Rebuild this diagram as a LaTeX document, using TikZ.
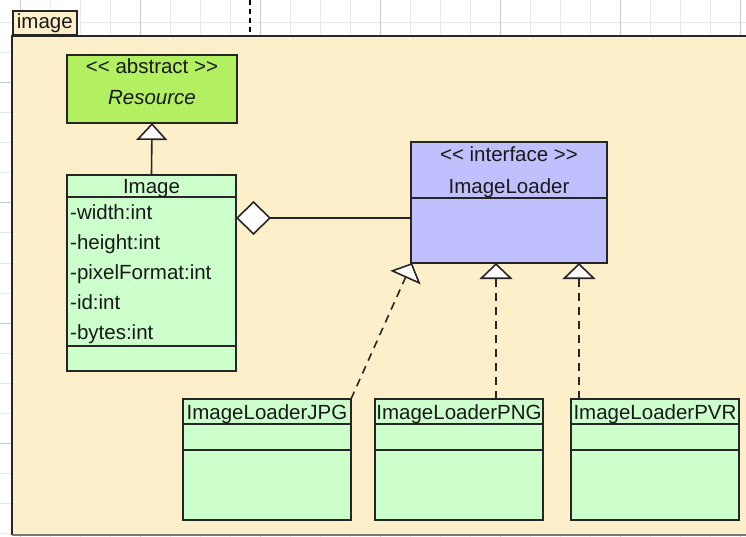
\documentclass[tikz,border=0pt]{standalone}
\usepackage{fontspec}
\setmainfont{Liberation Sans}
\usetikzlibrary{arrows.meta,calc}

\definecolor{pkgfill}{RGB}{253,239,202}
\definecolor{limefill}{RGB}{178,240,98}
\definecolor{mintfill}{RGB}{204,255,204}
\definecolor{lavfill}{RGB}{192,192,255}
\definecolor{edgec}{RGB}{38,38,38}
\definecolor{textc}{RGB}{25,25,25}
\definecolor{gridlight}{RGB}{232,232,232}
\definecolor{griddark}{RGB}{200,200,200}
\definecolor{pkgbottom}{RGB}{120,120,120}

\tikzset{
  umlfont/.style={font=\fontsize{20.5pt}{24pt}\selectfont},
  classbox/.style={draw=edgec, line width=1.7pt, anchor=north west,
    inner sep=0pt, outer sep=0pt},
  txt/.style={umlfont, inner sep=0pt, text=textc},
  compline/.style={draw=edgec, line width=1.7pt},
  conn/.style={draw=edgec, line width=1.6pt},
  inherit/.style={conn, -{Triangle[fill=white, length=17pt, width=31pt]}},
  realize/.style={conn, dash pattern=on 8pt off 6pt,
    -{Triangle[fill=white, length=16pt, width=33pt]}},
  agg/.style={conn, {Diamond[fill=white, length=35pt, width=34pt]}-},
}

\begin{document}
\begin{tikzpicture}[x=1pt, y=-1pt]
\useasboundingbox (0,0) rectangle (746,537);
\fill[white] (0,0) rectangle (746,537);

% background grid
\foreach \gx in {20,50,...,740}
  \draw[gridlight, line width=1pt] (\gx,0) -- (\gx,537);
\foreach \gy in {23,53,...,533}
  \draw[gridlight, line width=1pt] (0,\gy) -- (746,\gy);
\foreach \gx in {20,140,...,740}
  \draw[griddark, line width=1pt] (\gx,0) -- (\gx,537);
\foreach \gy in {83,203,...,443}
  \draw[griddark, line width=1pt] (0,\gy) -- (746,\gy);
\draw[black, line width=1.5pt, dash pattern=on 5pt off 4pt] (250,0) -- (250,36);

% package "image"
\node[fill=pkgfill, anchor=north west, inner sep=0pt, outer sep=0pt,
      minimum width=734pt, minimum height=499pt] (pkg) at (12,36) {};
\draw[edgec, line width=1.7pt] (pkg.south west) -- (pkg.north west) -- (pkg.north east);
\draw[pkgbottom, line width=1.5pt] (pkg.south west) -- (pkg.south east);
\node[draw=edgec, fill=pkgfill, line width=1.7pt, anchor=south west, inner sep=0pt,
      minimum width=64pt, minimum height=24pt, umlfont, text=textc] (tab) at (pkg.north west) {image};

% abstract class Resource
\node[classbox, fill=limefill, minimum width=170pt, minimum height=68pt] (res) at (67,55) {};
\node[txt, anchor=base] (resst) at (152,74) {<{}< abstract >{}>};
\node[txt, anchor=base, font=\fontsize{20.5pt}{24pt}\selectfont\itshape] (resname) at (152,105) {Resource};

% class Image
\node[classbox, fill=mintfill, minimum width=169pt, minimum height=196pt] (img) at (67,175) {};
\draw[compline] ([yshift=-22pt]img.north west) -- ([yshift=-22pt]img.north east);
\draw[compline] ([yshift=-171pt]img.north west) -- ([yshift=-171pt]img.north east);
\node[txt, anchor=base] (imgname) at (151.5,194) {Image};
\node[txt, anchor=base west] (a1) at (70,220) {-width:int};
\node[txt, anchor=base west] (a2) at (70,249) {-height:int};
\node[txt, anchor=base west] (a3) at (70,279) {-pixelFormat:int};
\node[txt, anchor=base west] (a4) at (70,309) {-id:int};
\node[txt, anchor=base west] (a5) at (70,339) {-bytes:int};

% interface ImageLoader
\node[classbox, fill=lavfill, minimum width=196pt, minimum height=121pt] (loader) at (411,142) {};
\draw[compline] ([yshift=-56pt]loader.north west) -- ([yshift=-56pt]loader.north east);
\node[txt, anchor=base] (ldst) at (509,162) {<{}< interface >{}>};
\node[txt, anchor=base] (ldname) at (509,194) {ImageLoader};

% implementing classes
\foreach \nm/\px/\lbl in {jpg/183/ImageLoaderJPG, png/375/ImageLoaderPNG, pvr/571/ImageLoaderPVR} {
  \node[classbox, fill=mintfill, minimum width=168pt, minimum height=121pt] (\nm) at (\px,399) {};
  \draw[compline] ([yshift=-25pt]\nm.north west) -- ([yshift=-25pt]\nm.north east);
  \draw[compline] ([yshift=-51pt]\nm.north west) -- ([yshift=-51pt]\nm.north east);
  \node[txt, anchor=base] (\nm name) at ([yshift=-20pt]\nm.north) {\lbl};
}

% generalisation Image -> Resource
\draw[inherit] (img.north) -- (res.south);

% aggregation Image <>-- ImageLoader
\coordinate (aggY) at ([yshift=-43pt]img.north east);
\draw[agg] (aggY) -- (aggY -| loader.west);

% realisations of ImageLoader
\draw[realize] (jpg.north east) -- ([xshift=1pt]loader.south west);
\coordinate (pngtop) at ([xshift=121pt]png.north west);
\draw[realize] (pngtop) -- (pngtop |- loader.south);
\coordinate (pvrtop) at ([xshift=8pt]pvr.north west);
\draw[realize] (pvrtop) -- (pvrtop |- loader.south);
\end{tikzpicture}
\end{document}
